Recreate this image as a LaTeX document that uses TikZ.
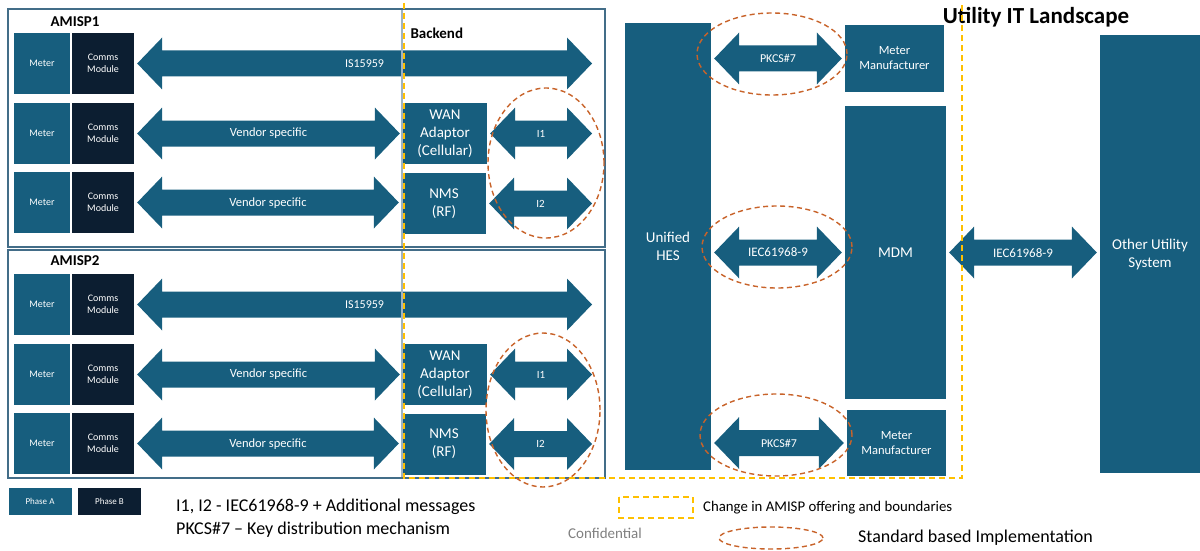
\documentclass[tikz,border=0pt]{standalone}
\usepackage{fontspec}
\setmainfont{Carlito}
\usepackage{tikz}
\usetikzlibrary{calc}

\definecolor{hesblue}{HTML}{175E7E}
\definecolor{commnavy}{HTML}{0C1E31}
\definecolor{stdorange}{HTML}{C8632A}
\definecolor{amispyellow}{HTML}{FFC000}
\definecolor{frameblue}{HTML}{436D88}
\definecolor{dividergrey}{HTML}{9FB3C3}

\tikzset{
  blk/.style={fill=hesblue, text=white, inner sep=0pt, align=center, font=\fontsize{15}{18}\selectfont},
  meterbox/.style={blk, minimum width=56pt, minimum height=61pt, font=\fontsize{10}{12}\selectfont},
  commsbox/.style={meterbox, fill=commnavy, minimum width=62pt},
  backbox/.style={blk, minimum width=84pt, minimum height=61pt},
  mfrbox/.style={blk, minimum width=99pt, font=\fontsize{12.5}{15}\selectfont},
  arrowlbl/.style={text=white, inner sep=0pt, font=\fontsize{12}{14}\selectfont},
  frame/.style={draw=frameblue, line width=1.8pt},
  divider/.style={draw=dividergrey, line width=1.5pt},
  boundary/.style={draw=amispyellow, line width=1.6pt, dash pattern=on 6pt off 4pt},
  stdring/.style={draw=stdorange, line width=1.4pt, dash pattern=on 5pt off 3.5pt},
  boxtitle/.style={font=\bfseries\fontsize{15}{18}\selectfont},
  phasebox/.style={blk, minimum width=63pt, minimum height=27pt, font=\fontsize{9}{11}\selectfont},
  legendtxt/.style={anchor=west, inner sep=0pt, font=\fontsize{18}{22}\selectfont},
}

% fat double arrow between two points, label in the middle
\newcommand{\dblarrow}[4][]{%
  \fill[hesblue] let \p1=(#2), \p2=(#3) in
    (\x1+3pt,\y1) -- (\x1+28pt,\y1+26pt) -- (\x1+28pt,\y1+13pt)
    -- (\x2-28pt,\y1+13pt) -- (\x2-28pt,\y1+26pt) -- (\x2-3pt,\y1)
    -- (\x2-28pt,\y1-26pt) -- (\x2-28pt,\y1-13pt)
    -- (\x1+28pt,\y1-13pt) -- (\x1+28pt,\y1-26pt) -- cycle;
  \path (#2) -- (#3) node[midway,arrowlbl,#1] {#4};}

\begin{document}
\begin{tikzpicture}[x=1pt, y=-1pt]
  \useasboundingbox (0,0) rectangle (1200,551);

  % Frames
  \draw[frame] (8,9) rectangle (605,247);
  \draw[frame] (8,250) rectangle (605,478);
  \node[boxtitle] (amisp1) at (75,22) {AMISP1};
  \node[boxtitle] (amisp2) at (75,261) {AMISP2};
  \node[boxtitle, anchor=west] (backend) at (407,33) {Backend};

  % AMISP1 nodes
  \node[meterbox] (m11) at (42,63.5) {Meter};
  \node[commsbox] (c11) at (103,63.5) {Comms\\Module};
  \node[meterbox] (m12) at (42,133.5) {Meter};
  \node[commsbox] (c12) at (103,133.5) {Comms\\Module};
  \node[meterbox] (m13) at (42,202.5) {Meter};
  \node[commsbox] (c13) at (103,202.5) {Comms\\Module};
  \node[backbox] (wan1) at (445,133.5) {WAN\\Adaptor\\(Cellular)};
  \node[backbox] (nms1) at (444,203.5) {NMS\\(RF)};
  \coordinate (is1end) at (595,63.5);
  \coordinate (i1end) at (595,133.5);
  \coordinate (i2end) at (595,203.5);

  % AMISP2 nodes
  \node[meterbox] (m21) at (42,304.5) {Meter};
  \node[commsbox] (c21) at (103,304.5) {Comms\\Module};
  \node[meterbox] (m22) at (42,374.5) {Meter};
  \node[commsbox] (c22) at (103,374.5) {Comms\\Module};
  \node[meterbox] (m23) at (42,443.5) {Meter};
  \node[commsbox] (c23) at (103,443.5) {Comms\\Module};
  \node[backbox] (wan2) at (445,374.5) {WAN\\Adaptor\\(Cellular)};
  \node[backbox] (nms2) at (444,444) {NMS\\(RF)};
  \coordinate (is2end) at (595,304.5);
  \coordinate (i3end) at (595,374.5);
  \coordinate (i4end) at (595,444);

  % Utility side
  \node[blk, minimum width=86pt, minimum height=447pt] (hes) at (668,246.5) {Unified\\HES};
  \node[mfrbox, minimum height=67pt] (mfr1) at (894.5,58.5) {Meter\\Manufacturer};
  \node[blk, minimum width=101pt, minimum height=293pt] (mdm) at (895.5,252.5) {MDM};
  \node[mfrbox, minimum height=66pt] (mfr2) at (896.5,443) {Meter\\Manufacturer};
  \node[blk, minimum width=100pt, minimum height=438pt] (other) at (1150,254) {Other Utility\\System};
  \node[font=\bfseries\fontsize{23}{26}\selectfont] (landscape) at (1036,17) {Utility IT Landscape};

  % Arrows
  \dblarrow{c11.east}{is1end}{IS15959}
  \dblarrow[font=\fontsize{12.5}{14}\selectfont]{c12.east}{wan1.west}{Vendor specific}
  \dblarrow[font=\fontsize{12.5}{14}\selectfont]{c13.east}{nms1.west}{Vendor specific}
  \dblarrow[font=\fontsize{11}{13}\selectfont]{wan1.east}{i1end}{I1}
  \dblarrow[font=\fontsize{11}{13}\selectfont]{nms1.east}{i2end}{I2}
  \dblarrow{c21.east}{is2end}{IS15959}
  \dblarrow[font=\fontsize{12.5}{14}\selectfont]{c22.east}{wan2.west}{Vendor specific}
  \dblarrow[font=\fontsize{12.5}{14}\selectfont]{c23.east}{nms2.west}{Vendor specific}
  \dblarrow[font=\fontsize{11}{13}\selectfont]{wan2.east}{i3end}{I1}
  \dblarrow[font=\fontsize{11}{13}\selectfont]{nms2.east}{i4end}{I2}
  \dblarrow{hes.east |- mfr1.west}{mfr1.west}{PKCS\#7}
  \dblarrow[font=\fontsize{13}{15}\selectfont]{hes.east |- mdm.west}{mdm.west}{IEC61968-9}
  \dblarrow{hes.east |- mfr2.west}{mfr2.west}{PKCS\#7}
  \dblarrow[font=\fontsize{13}{15}\selectfont]{mdm.east}{other.west}{IEC61968-9}

  % Dividers
  \draw[divider] (402,10) -- (402,246);
  \draw[divider] (402,251) -- (402,477);

  % Boundaries
  \draw[boundary] (404,3) -- (404,478) -- (962,478) -- (962,3);
  \draw[stdring] (546,163) ellipse [x radius=58pt, y radius=75pt];
  \draw[stdring] (543,410) ellipse [x radius=57pt, y radius=77pt];
  \draw[stdring] (772,54) ellipse [x radius=75pt, y radius=41pt];
  \draw[stdring] (777,247) ellipse [x radius=75pt, y radius=41pt];
  \draw[stdring] (776,435) ellipse [x radius=76pt, y radius=41pt];

  % Legend
  \node[phasebox] (phasea) at (40,501.5) {Phase A};
  \node[phasebox, fill=commnavy] (phaseb) at (109.5,501.5) {Phase B};
  \node[legendtxt] (note1) at (176,507) {I1, I2 - IEC61968-9 + Additional messages};
  \node[legendtxt] (note2) at (176,530) {PKCS\#7 -- Key distribution mechanism};
  \node[font=\fontsize{15}{18}\selectfont, text=gray] (conf) at (605,533) {Confidential};
  \draw[boundary] (619,497) rectangle (693,518);
  \node[legendtxt, font=\fontsize{14.8}{18}\selectfont] (changetxt) at (703,508) {Change in AMISP offering and boundaries};
  \draw[stdring] (771,538) ellipse [x radius=52pt, y radius=11pt];
  \node[legendtxt] (stdtxt) at (858,538) {Standard based Implementation};
\end{tikzpicture}
\end{document}
